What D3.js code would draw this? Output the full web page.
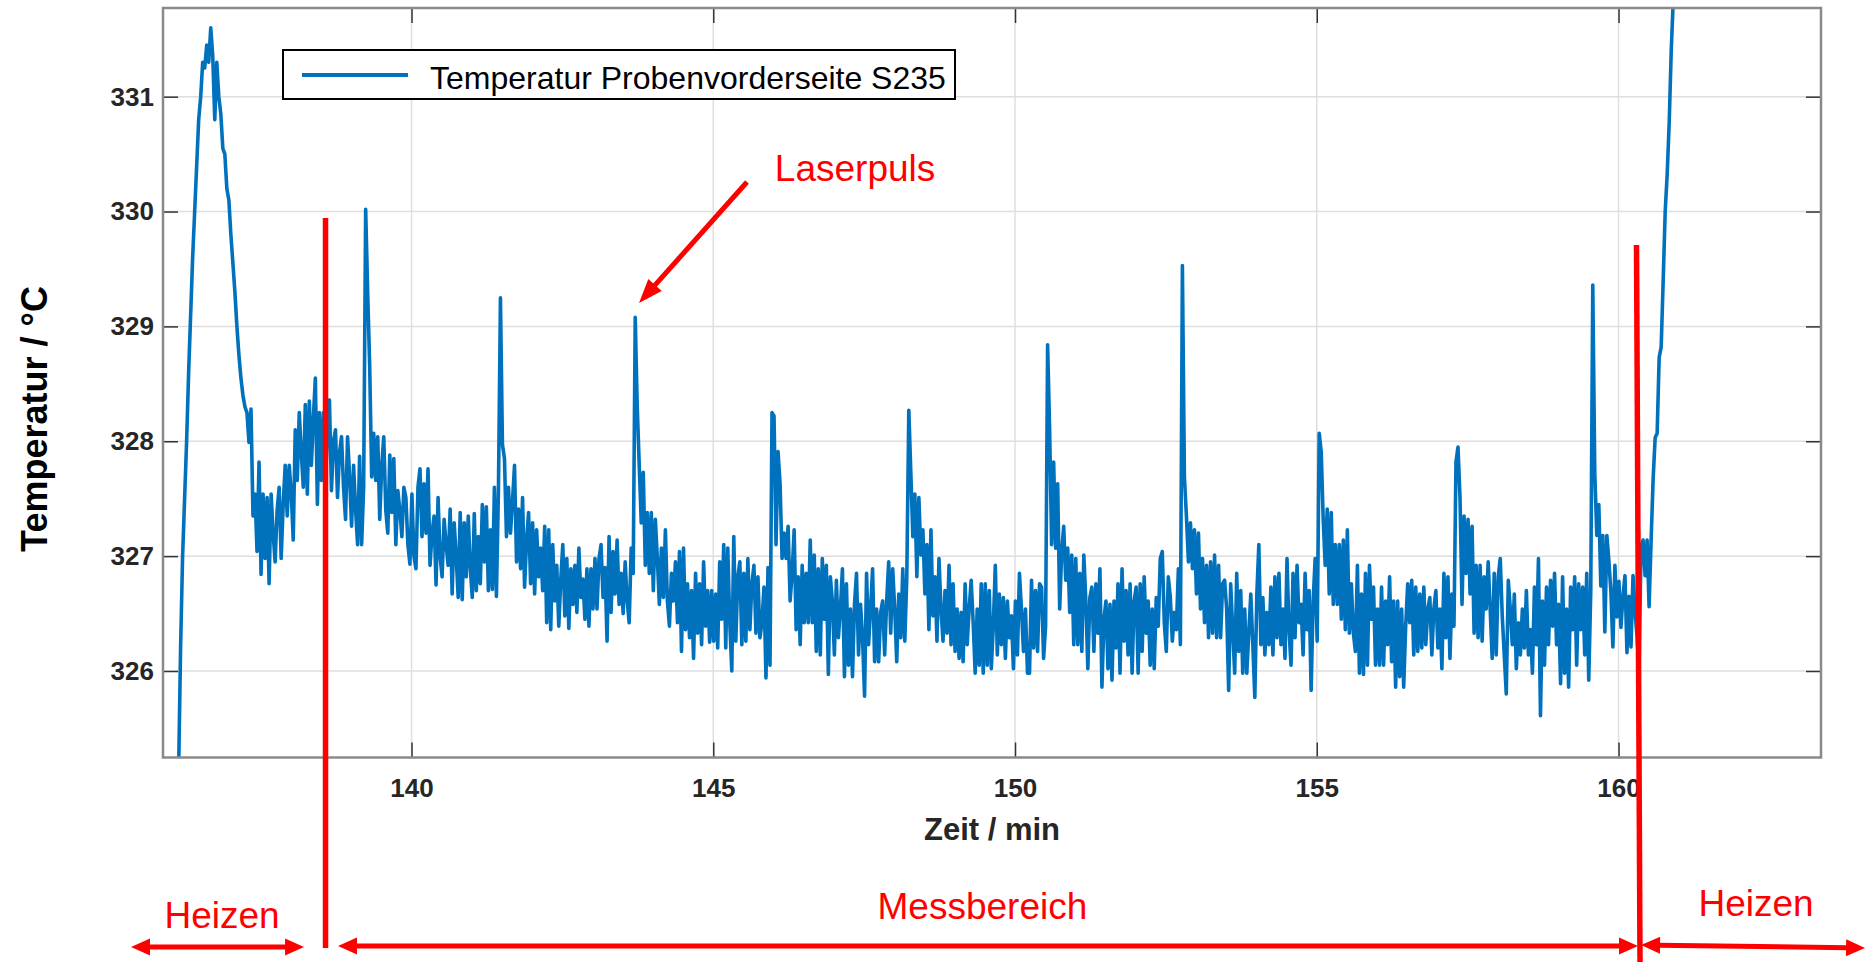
<!DOCTYPE html>
<html><head><meta charset="utf-8">
<script src="https://cdnjs.cloudflare.com/ajax/libs/d3/7.8.5/d3.min.js"></script>
<style>html,body{margin:0;padding:0;background:#fff;}svg{display:block;}</style>
</head><body>
<svg id="chart" width="1872" height="963"></svg>
<script>
// ---------------- data ----------------
const startMinute = 136.14;          // time of first sample (min)
const sampleStepMinutes = 1 / 30;    // 2 s sampling
const temperature = [
325.10,326.20,327.00,327.50,328.00,328.60,329.10,329.60,330.00,330.40,
330.80,331.00,331.30,331.25,331.45,331.30,331.60,331.35,330.80,331.30,
331.00,330.85,330.55,330.50,330.20,330.10,329.80,329.55,329.30,329.00,
328.75,328.55,328.40,328.30,328.25,327.99,328.28,327.35,327.54,327.04,
327.82,326.84,327.54,326.98,327.51,326.76,327.54,327.20,326.95,327.40,
327.60,326.98,327.45,327.79,327.35,327.79,327.55,327.14,328.10,327.66,
328.25,327.90,327.60,328.32,327.54,328.35,327.79,328.20,328.55,327.45,
328.25,327.66,328.25,327.60,328.10,328.36,327.57,328.00,328.10,327.51,
327.90,328.04,327.60,327.32,328.04,327.70,327.26,327.79,327.40,327.10,
327.87,327.10,327.60,330.02,329.30,328.66,327.69,328.07,327.66,328.04,
327.32,327.79,328.04,327.40,327.20,327.88,327.38,327.85,327.10,327.57,
327.40,327.17,327.60,327.51,327.10,326.93,327.54,327.00,326.89,327.60,
327.76,327.17,327.63,327.20,327.76,326.92,327.20,327.35,326.75,327.51,
327.00,326.82,327.32,327.10,326.92,327.41,326.67,327.29,327.00,326.64,
327.38,326.62,327.29,326.82,327.35,326.90,326.64,327.37,326.70,327.17,
326.76,327.45,326.95,327.43,326.70,327.23,326.71,327.60,326.65,327.57,
329.25,327.97,327.85,327.17,327.60,327.20,327.48,327.79,326.95,327.41,
326.89,327.51,326.73,327.14,327.38,326.76,327.29,326.67,327.23,326.82,
327.07,326.70,327.26,326.42,327.23,326.36,327.10,326.61,326.92,326.39,
326.80,327.10,326.48,326.98,326.37,326.89,326.58,326.92,326.51,327.07,
326.64,326.80,326.45,326.89,326.39,326.89,326.54,326.98,326.54,326.98,
327.10,326.64,326.90,326.26,327.17,326.51,327.04,326.67,327.14,326.58,
326.85,326.50,326.95,326.61,326.42,327.07,326.85,329.08,328.30,327.79,
327.29,327.73,326.92,327.38,326.85,327.38,326.70,327.32,326.98,326.58,
327.07,326.64,327.23,326.61,326.39,326.85,326.61,326.95,326.42,327.04,
326.17,327.07,326.36,326.76,326.29,326.70,326.11,326.85,326.33,326.76,
326.23,326.95,326.39,326.70,326.25,326.70,326.26,326.67,326.20,326.95,
326.45,327.10,326.20,327.07,326.42,326.00,327.17,326.26,326.82,326.95,
326.23,326.85,326.26,326.98,326.36,326.76,326.92,326.33,326.82,326.29,
326.42,326.73,325.94,326.90,326.05,328.25,328.22,327.10,327.91,327.63,
326.98,327.20,326.98,327.26,326.61,326.85,327.23,326.36,326.82,326.23,
326.92,326.42,326.85,326.42,327.14,326.42,327.01,326.17,326.89,326.14,
326.98,326.45,326.92,325.97,326.82,326.61,326.14,326.79,326.29,326.54,
326.89,325.95,326.76,326.05,326.54,325.95,326.58,326.85,326.14,326.58,
326.29,325.78,326.85,326.23,326.54,326.89,326.08,326.54,326.08,326.51,
326.61,326.14,326.61,326.95,326.33,326.89,326.54,326.08,326.67,326.29,
326.89,326.26,326.82,328.27,327.73,327.17,327.54,326.82,327.51,327.01,
327.23,326.67,327.10,326.36,327.23,326.48,326.82,326.26,326.98,326.54,
326.26,326.70,326.33,326.92,326.23,326.76,326.17,326.54,326.11,326.51,
326.08,326.76,326.23,326.54,326.79,326.42,325.98,326.54,326.05,326.76,
325.98,326.76,326.05,326.70,326.02,326.39,326.92,326.14,326.67,326.23,
326.64,326.11,326.61,326.29,326.48,326.02,326.61,326.14,326.85,326.54,
326.17,326.54,325.98,325.98,326.79,326.20,326.70,326.17,326.76,326.73,
326.11,326.39,328.84,328.10,327.10,327.82,327.07,327.63,326.54,327.04,
327.26,326.79,327.07,326.51,327.01,326.23,326.98,326.23,326.85,326.17,
327.01,326.61,326.02,326.64,326.73,326.17,326.76,326.33,326.89,325.86,
326.45,326.61,326.02,326.58,325.92,326.61,326.20,326.76,325.98,326.89,
326.26,326.70,326.14,326.76,325.98,326.61,326.73,325.98,326.76,326.17,
326.82,326.33,326.61,326.05,326.54,326.02,326.64,326.39,326.98,327.04,
326.42,326.17,326.82,326.64,326.26,326.51,326.36,326.89,326.23,329.53,
327.69,327.35,326.95,327.29,326.89,327.23,326.67,327.20,326.54,326.98,
326.42,326.92,326.29,326.95,326.33,327.01,326.29,326.92,326.29,326.76,
326.79,326.54,325.83,326.76,326.36,325.98,326.85,326.17,326.70,325.98,
326.54,325.98,326.33,326.67,326.23,325.77,326.67,327.10,326.23,326.64,
326.14,326.51,326.23,326.73,326.14,326.82,326.29,326.85,326.23,326.54,
326.11,326.98,326.36,326.05,326.85,326.29,326.92,326.42,326.58,326.14,
326.85,326.36,326.70,325.83,326.61,326.98,326.26,328.07,327.91,327.32,
326.92,327.41,326.67,327.38,326.58,327.10,326.58,327.10,326.45,327.14,
326.36,327.23,326.33,326.76,326.33,326.17,326.92,325.98,326.67,325.97,
326.85,326.05,326.92,326.45,326.73,326.05,326.54,326.05,326.73,326.05,
326.61,326.23,326.82,326.08,326.61,325.86,326.61,325.95,326.54,325.86,
326.39,326.76,326.42,326.79,326.14,326.73,326.17,326.67,326.20,326.73,
326.23,326.54,326.64,326.14,326.54,326.70,326.20,326.54,326.02,326.85,
326.29,326.82,326.11,326.67,326.39,327.82,327.95,327.51,326.58,327.35,
326.85,327.32,326.67,327.26,326.33,326.92,326.29,326.92,326.26,326.82,
326.54,326.95,326.54,326.11,326.85,326.14,326.82,326.98,326.48,326.14,
325.80,326.79,326.54,326.23,326.67,326.02,326.42,326.14,326.54,326.20,
326.70,326.14,326.36,325.98,326.73,326.23,326.98,325.61,326.61,326.05,
326.73,326.23,326.79,326.39,326.85,326.23,326.58,325.89,326.82,325.98,
326.54,325.86,326.73,326.36,326.82,326.05,326.76,326.36,326.73,326.14,
326.85,325.92,326.70,329.36,327.72,327.18,327.45,326.74,327.18,326.34,
327.18,326.96,326.69,326.21,326.92,326.47,326.78,326.38,326.65,326.83,
326.16,326.65,326.21,326.83,326.52,326.30,325.98,327.09,327.14,326.83,
327.14,326.56,327.14,327.67,328.03,328.07,328.73,328.82,329.40,330.00,
330.33,330.78,331.40,331.84,332.40,333.00
];
const xTicks = [140, 145, 150, 155, 160];
const yTicks = [326, 327, 328, 329, 330, 331];
const xDomain = [135.882, 163.355];
const yDomain = [325.247, 331.772];
const seriesName = "Temperatur Probenvorderseite S235";
const xLabel = "Zeit / min";
const yLabel = "Temperatur / °C";

// annotations (in data units)
const phaseMarkers = [
  {t0: 138.575, v0: 329.944, t1: 138.575, v1: 323.588},
  {t0: 160.298, v0: 329.709, t1: 160.356, v1: 323.467}
];
const pulseLabel = {text: "Laserpuls", t: 146.02, v: 330.266};
const pulseArrow = {t0: 145.559, v0: 330.257, t1: 143.770, v1: 329.204};
const phaseLabels = [
  {text: "Heizen", t: 136.86, py: 928},
  {text: "Messbereich", t: 149.46, py: 919},
  {text: "Heizen", t: 162.28, py: 916}
];
const phaseRanges = [
  {t0: 135.352, t1: 138.219, py0: 947, py1: 947},
  {t0: 138.782, t1: 160.323, py0: 946, py1: 946},
  {t0: 160.373, t1: 164.085, py0: 945, py1: 948}
];

// ---------------- drawing ----------------
const FONT = "'Liberation Sans', Arial, Helvetica, sans-serif";
const svg = d3.select("#chart");
const plot = {left: 163, right: 1821, top: 8, bottom: 757.5};
const x = d3.scaleLinear().domain(xDomain).range([plot.left, plot.right]);
const y = d3.scaleLinear().domain(yDomain).range([plot.bottom, plot.top]);
const points = temperature.map((v, i) => ({t: startMinute + i * sampleStepMinutes, v}));

svg.append("rect").attr("width", 1872).attr("height", 963).attr("fill", "#fff");
svg.append("defs").append("clipPath").attr("id", "clip").append("rect")
  .attr("x", plot.left).attr("y", plot.top)
  .attr("width", plot.right - plot.left).attr("height", plot.bottom - plot.top);

// grid
const grid = svg.append("g").attr("stroke", "#dedede").attr("stroke-width", 1.5);
grid.selectAll("line.gx").data(xTicks).join("line").attr("class", "gx")
  .attr("x1", d => x(d)).attr("x2", d => x(d)).attr("y1", plot.top).attr("y2", plot.bottom);
grid.selectAll("line.gy").data(yTicks).join("line").attr("class", "gy")
  .attr("y1", d => y(d)).attr("y2", d => y(d)).attr("x1", plot.left).attr("x2", plot.right);

// data line
svg.append("path").datum(points).attr("clip-path", "url(#clip)")
  .attr("fill", "none").attr("stroke", "#0072BD").attr("stroke-width", 3.6)
  .attr("stroke-linejoin", "round")
  .attr("d", d3.line().x(d => x(d.t)).y(d => y(d.v)));

// axes
function styleAxis(g) {
  g.select(".domain").remove();
  g.selectAll(".tick line").attr("stroke", "#333").attr("stroke-width", 1.5);
  g.selectAll(".tick text").attr("font-family", FONT).attr("font-size", 26)
    .attr("font-weight", "bold").attr("fill", "#262626");
}
svg.append("g").attr("transform", `translate(0,${plot.bottom})`)
  .call(d3.axisBottom(x).tickValues(xTicks).tickSize(-15).tickPadding(21).tickFormat(d3.format("d")))
  .call(styleAxis);
svg.append("g").attr("transform", `translate(0,${plot.top})`)
  .call(d3.axisTop(x).tickValues(xTicks).tickSize(-15).tickFormat(""))
  .call(styleAxis);
svg.append("g").attr("transform", `translate(${plot.left},0)`)
  .call(d3.axisLeft(y).tickValues(yTicks).tickSize(-15).tickPadding(9).tickFormat(d3.format("d")))
  .call(styleAxis);
svg.append("g").attr("transform", `translate(${plot.right},0)`)
  .call(d3.axisRight(y).tickValues(yTicks).tickSize(-15).tickFormat(""))
  .call(styleAxis);

// frame
svg.append("rect").attr("x", plot.left).attr("y", plot.top)
  .attr("width", plot.right - plot.left).attr("height", plot.bottom - plot.top)
  .attr("fill", "none").attr("stroke", "#8a8a8a").attr("stroke-width", 2.5);

// axis labels
svg.append("text").attr("x", 992).attr("y", 840).attr("text-anchor", "middle")
  .attr("font-family", FONT).attr("font-size", 31).attr("font-weight", "bold").attr("fill", "#262626")
  .text(xLabel);
svg.append("text").attr("transform", "translate(47,419) rotate(-90)").attr("text-anchor", "middle")
  .attr("font-family", FONT).attr("font-size", 36).attr("font-weight", "bold").attr("fill", "#000")
  .text(yLabel);

// legend
const lg = svg.append("g");
lg.append("rect").attr("x", 283).attr("y", 50).attr("width", 672).attr("height", 49)
  .attr("fill", "#fff").attr("stroke", "#000").attr("stroke-width", 2);
lg.append("line").attr("x1", 302).attr("x2", 408).attr("y1", 75).attr("y2", 75)
  .attr("stroke", "#0072BD").attr("stroke-width", 4);
lg.append("text").attr("x", 430).attr("y", 89).attr("font-family", FONT).attr("font-size", 32)
  .attr("fill", "#000").text(seriesName);

// annotations
const RED = "#ff0000";
const ann = svg.append("g");
ann.selectAll("line.marker").data(phaseMarkers).join("line").attr("class", "marker")
  .attr("x1", d => x(d.t0)).attr("y1", d => y(d.v0)).attr("x2", d => x(d.t1)).attr("y2", d => y(d.v1))
  .attr("stroke", RED).attr("stroke-width", 5.5);

function arrowHead(tx, ty, fx, fy, len, hw) {
  const dx = tx - fx, dy = ty - fy, L = Math.hypot(dx, dy);
  const ux = dx / L, uy = dy / L, bx = tx - ux * len, by = ty - uy * len;
  return `M${tx},${ty}L${bx - uy * hw},${by + ux * hw}L${bx + uy * hw},${by - ux * hw}Z`;
}
function arrowLine(x0, y0, x1, y1, len, heads, width, hw) {
  const dx = x1 - x0, dy = y1 - y0, L = Math.hypot(dx, dy), ux = dx / L, uy = dy / L;
  const sx = heads.start ? x0 + ux * (len - 2) : x0, sy = heads.start ? y0 + uy * (len - 2) : y0;
  const ex = heads.end ? x1 - ux * (len - 2) : x1, ey = heads.end ? y1 - uy * (len - 2) : y1;
  ann.append("line").attr("x1", sx).attr("y1", sy).attr("x2", ex).attr("y2", ey)
    .attr("stroke", RED).attr("stroke-width", width);
  if (heads.end) ann.append("path").attr("d", arrowHead(x1, y1, x0, y0, len, hw)).attr("fill", RED);
  if (heads.start) ann.append("path").attr("d", arrowHead(x0, y0, x1, y1, len, hw)).attr("fill", RED);
}
arrowLine(x(pulseArrow.t0), y(pulseArrow.v0), x(pulseArrow.t1), y(pulseArrow.v1), 24, {end: true}, 5, 9);
phaseRanges.forEach(r => arrowLine(x(r.t0), r.py0, x(r.t1), r.py1, 19, {start: true, end: true}, 5, 8.5));

ann.append("text").attr("x", x(pulseLabel.t)).attr("y", y(pulseLabel.v))
  .attr("font-family", FONT).attr("font-size", 37).attr("fill", RED).text(pulseLabel.text);
ann.selectAll("text.phase").data(phaseLabels).join("text").attr("class", "phase")
  .attr("x", d => x(d.t)).attr("y", d => d.py).attr("text-anchor", "middle")
  .attr("font-family", FONT).attr("font-size", 37).attr("fill", RED).text(d => d.text);
</script>
</body></html>
